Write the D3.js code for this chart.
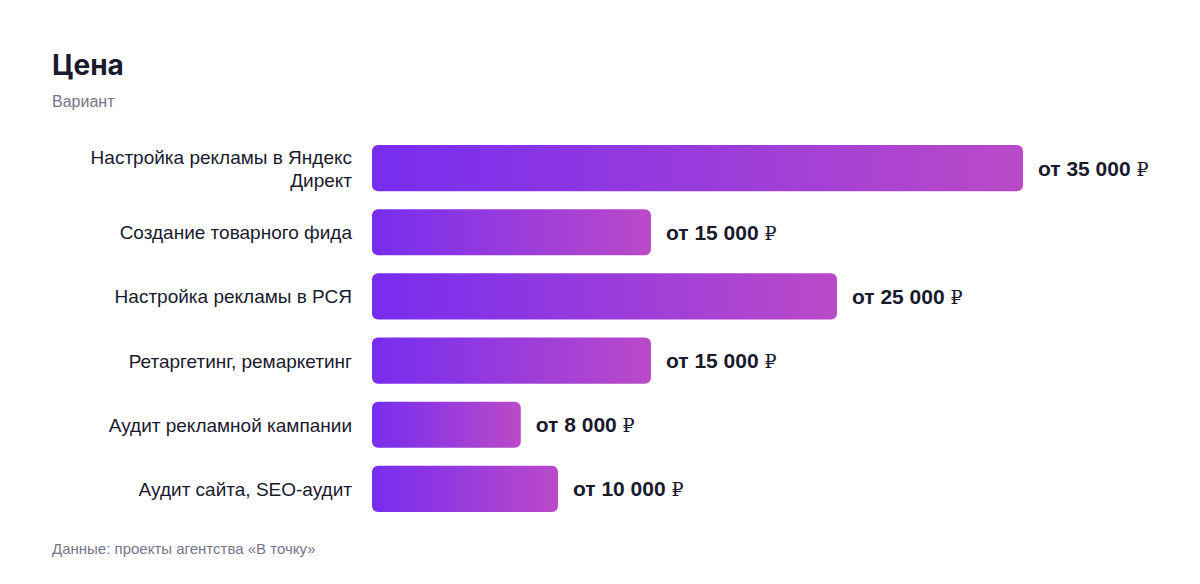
<!DOCTYPE html>
<html><head><meta charset="utf-8">
<script src="https://cdn.jsdelivr.net/npm/d3@7"></script>
<style>
html,body{margin:0;padding:0;background:#fff;}
svg{display:block;}
</style></head>
<body>
<svg id="chart" width="1200" height="584"></svg>
<script>
const categories = [
  ["Настройка рекламы в Яндекс", "Директ"],
  ["Создание товарного фида"],
  ["Настройка рекламы в РСЯ"],
  ["Ретаргетинг, ремаркетинг"],
  ["Аудит рекламной кампании"],
  ["Аудит сайта, SEO-аудит"]
];
const values = [35000, 15000, 25000, 15000, 8000, 10000];
const valueLabels = ["от 35 000", "от 15 000", "от 25 000", "от 15 000", "от 8 000", "от 10 000"];
const title = "Цена";
const subtitle = "Вариант";
const footer = "Данные: проекты агентства «В точку»";

const svg = d3.select("#chart");
const labelFont = "'Liberation Sans', Arial, Helvetica, sans-serif";
const titleFont = "Inter, 'Liberation Sans', Arial, sans-serif";

const x = d3.scaleLinear().domain([0, 35000]).range([372, 1023]);
const y = d3.scaleBand().domain(d3.range(values.length)).range([136, 521]).paddingInner(0.28).paddingOuter(0.14);

const defs = svg.append("defs");
const grad = defs.append("linearGradient").attr("id", "barGrad")
  .attr("x1", "0%").attr("x2", "100%").attr("y1", "0%").attr("y2", "0%");
grad.append("stop").attr("offset", "0%").attr("stop-color", "#772def");
grad.append("stop").attr("offset", "100%").attr("stop-color", "#ba4ac8");

svg.append("text").attr("x", 52).attr("y", 75).text(title)
  .attr("font-family", titleFont).attr("font-weight", 700).attr("font-size", 28).attr("fill", "#1a1a2e");
svg.append("text").attr("x", 52).attr("y", 107).text(subtitle)
  .attr("font-family", labelFont).attr("font-size", 16).attr("fill", "#77748a");

const g = svg.append("g");
values.forEach((v, i) => {
  const yc = y(i) + y.bandwidth() / 2;
  g.append("rect").attr("x", x(0)).attr("y", y(i)).attr("width", x(v) - x(0)).attr("height", y.bandwidth())
    .attr("rx", 6).attr("ry", 6).attr("fill", "url(#barGrad)");
  const lines = categories[i];
  const lh = 23;
  const t = g.append("text").attr("x", 352).attr("text-anchor", "end")
    .attr("font-family", labelFont).attr("font-size", 19).attr("fill", "#1a1a2e");
  lines.forEach((l, k) => {
    t.append("tspan").attr("x", 352).attr("y", yc + 7 + (k - (lines.length - 1) / 2) * lh).text(l);
  });
  const vt = g.append("text").attr("x", x(v) + 15).attr("y", yc + 7.5)
    .attr("font-family", labelFont).attr("font-weight", 700).attr("font-size", 21).attr("fill", "#1a1a2e");
  vt.append("tspan").text(valueLabels[i] + " ");
  vt.append("tspan").attr("font-weight", 400).attr("font-family", "'DejaVu Serif', serif").attr("font-size", 19).text("₽");
});

svg.append("text").attr("x", 52).attr("y", 554).text(footer)
  .attr("font-family", labelFont).attr("font-size", 15).attr("fill", "#77748a");
</script>
</body></html>
